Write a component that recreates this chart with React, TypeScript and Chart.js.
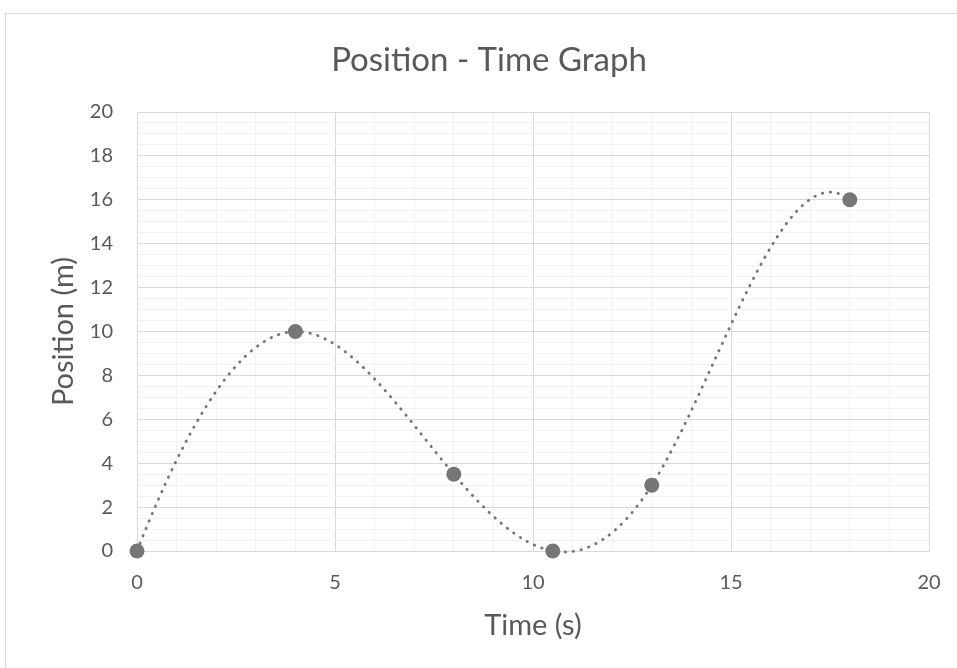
import React, { useEffect, useRef } from 'react';
import { Chart, registerables } from 'chart.js';

Chart.register(...registerables);

// ---- data ----
const timeSeconds = [0, 4, 8, 10.5, 13, 18];
const positionMeters = [0, 10, 3.5, 0, 3, 16];
const xTickLabels = [0, 5, 10, 15, 20];
const yTickLabels = [0, 2, 4, 6, 8, 10, 12, 14, 16, 18, 20];
// end slopes of the smoothed (spreadsheet-style) curve
const startSlope = 4.6;
const endSlope = -1.44;

const TEXT = '#595959';
const MAJOR = '#d9d9d9';
const MINOR = '#f2f2f2';
const MARK = '#767676';
const FONT = 'Lato, "Open Sans", sans-serif';

// clamped cubic spline slopes through the data (x must increase)
function splineSlopes(xs: number[], ys: number[], m0: number, mn: number): number[] {
  const n = xs.length - 1;
  const h: number[] = [];
  const s: number[] = [];
  for (let i = 0; i < n; i++) {
    h.push(xs[i + 1] - xs[i]);
    s.push((ys[i + 1] - ys[i]) / (xs[i + 1] - xs[i]));
  }
  const m = new Array(n + 1).fill(0);
  m[0] = m0;
  m[n] = mn;
  const k = n - 1; // unknowns m[1..n-1]
  if (k <= 0) return m;
  const a: number[] = [], b: number[] = [], c: number[] = [], d: number[] = [];
  for (let i = 1; i <= n - 1; i++) {
    a.push(h[i]);
    b.push(2 * (h[i - 1] + h[i]));
    c.push(h[i - 1]);
    let rhs = 3 * (h[i] * s[i - 1] + h[i - 1] * s[i]);
    if (i === 1) rhs -= h[i] * m0;
    if (i === n - 1) rhs -= h[i - 1] * mn;
    d.push(rhs);
  }
  // Thomas algorithm
  for (let i = 1; i < k; i++) {
    const w = a[i] / b[i - 1];
    b[i] -= w * c[i - 1];
    d[i] -= w * d[i - 1];
  }
  const sol = new Array(k).fill(0);
  sol[k - 1] = d[k - 1] / b[k - 1];
  for (let i = k - 2; i >= 0; i--) sol[i] = (d[i] - c[i] * sol[i + 1]) / b[i];
  for (let i = 1; i <= n - 1; i++) m[i] = sol[i - 1];
  return m;
}

const smoothPlugin = {
  id: 'smoothCurve',
  beforeDatasetDraw(chart: any, args: any) {
    const meta = args.meta;
    const line = meta.dataset;
    const pts = meta.data;
    if (!line || !pts || pts.length < 2) return;
    const xScale = chart.scales.x;
    const yScale = chart.scales.y;
    line.updateControlPoints(chart.chartArea, 'x');
    const slopes = splineSlopes(timeSeconds, positionMeters, startSlope, endSlope);
    for (let i = 0; i < pts.length; i++) {
      const xv = timeSeconds[i];
      const yv = positionMeters[i];
      const hPrev = i > 0 ? xv - timeSeconds[i - 1] : 0;
      const hNext = i < pts.length - 1 ? timeSeconds[i + 1] - xv : 0;
      const p = pts[i];
      p.cp1x = xScale.getPixelForValue(xv - hPrev / 3);
      p.cp1y = yScale.getPixelForValue(yv - (slopes[i] * hPrev) / 3);
      p.cp2x = xScale.getPixelForValue(xv + hNext / 3);
      p.cp2y = yScale.getPixelForValue(yv + (slopes[i] * hNext) / 3);
    }
    line._pointsUpdated = true;
    line._path = undefined;
  },
};

const framePlugin = {
  id: 'frame',
  beforeDraw(chart: any) {
    const { ctx } = chart;
    ctx.save();
    ctx.fillStyle = '#ffffff';
    ctx.fillRect(0, 0, chart.width, chart.height);
    ctx.strokeStyle = MAJOR;
    ctx.lineWidth = 1;
    ctx.strokeRect(5.5, 13.5, chart.width + 20, chart.height + 20);
    ctx.restore();
  },
};

export default function App() {
  const ref = useRef<HTMLCanvasElement | null>(null);

  useEffect(() => {
    if (!ref.current) return;
    const points = timeSeconds.map((t, i) => ({ x: t, y: positionMeters[i] }));
    const chart = new Chart(ref.current, {
      type: 'scatter',
      data: {
        datasets: [
          {
            label: 'Position',
            data: points,
            showLine: true,
            tension: 0.4,
            clip: false,
            borderColor: MARK,
            borderWidth: 2.8,
            borderDash: [0.5, 7.5],
            borderCapStyle: 'round',
            pointRadius: 7.5,
            pointHoverRadius: 7.5,
            pointBackgroundColor: MARK,
            pointBorderWidth: 0,
          },
        ],
      },
      options: {
        responsive: false,
        animation: false,
        events: [],
        layout: { padding: { left: 49, right: 49, top: 0, bottom: 0 } },
        plugins: {
          legend: { display: false },
          tooltip: { enabled: false },
          title: {
            display: true,
            text: 'Position - Time Graph',
            color: TEXT,
            font: { family: FONT, size: 33, weight: 'normal', lineHeight: 1.2 },
            padding: { top: 40.2, bottom: 32.2 },
          },
        },
        scales: {
          x: {
            type: 'linear',
            min: 0,
            max: 20,
            afterFit(scale: any) {
              scale.height = 117;
            },
            ticks: {
              stepSize: 1,
              autoSkip: false,
              maxRotation: 0,
              padding: 20,
              color: TEXT,
              font: { family: FONT, size: 20 },
              callback: (v: any) => (xTickLabels.includes(Number(v)) ? String(v) : ''),
            },
            grid: {
              drawTicks: false,
              color: (ctx: any) => (ctx.tick && ctx.tick.value % 5 === 0 ? MAJOR : MINOR),
              lineWidth: 1,
            },
            border: { display: true, color: MAJOR, width: 1 },
            title: {
              display: true,
              text: 'Time (s)',
              color: TEXT,
              font: { family: FONT, size: 29, weight: 'normal', lineHeight: 1.2 },
              padding: { top: 0, bottom: 24.6 },
            },
          },
          y: {
            type: 'linear',
            min: 0,
            max: 20,
            afterFit(scale: any) {
              scale.width = 88;
            },
            ticks: {
              stepSize: 0.5,
              autoSkip: false,
              padding: 24,
              color: TEXT,
              font: { family: FONT, size: 20 },
              callback: (v: any) => (yTickLabels.includes(Number(v)) ? String(v) : ''),
            },
            grid: {
              drawTicks: false,
              color: (ctx: any) => (ctx.tick && ctx.tick.value % 2 === 0 ? MAJOR : MINOR),
              lineWidth: 1,
            },
            border: { display: true, color: MAJOR, width: 1 },
            title: {
              display: true,
              text: 'Position (m)',
              color: TEXT,
              font: { family: FONT, size: 29, weight: 'normal', lineHeight: 1 },
              padding: { top: 0, bottom: 0 },
            },
          },
        },
      },
      plugins: [framePlugin, smoothPlugin],
    });
    return () => chart.destroy();
  }, []);

  return (
    <div
      style={{
        position: 'fixed',
        left: 0,
        top: 0,
        width: 957,
        height: 668,
        overflow: 'hidden',
        background: '#ffffff',
      }}
    >
      <canvas ref={ref} width={978} height={668} style={{ display: 'block' }} />
    </div>
  );
}
